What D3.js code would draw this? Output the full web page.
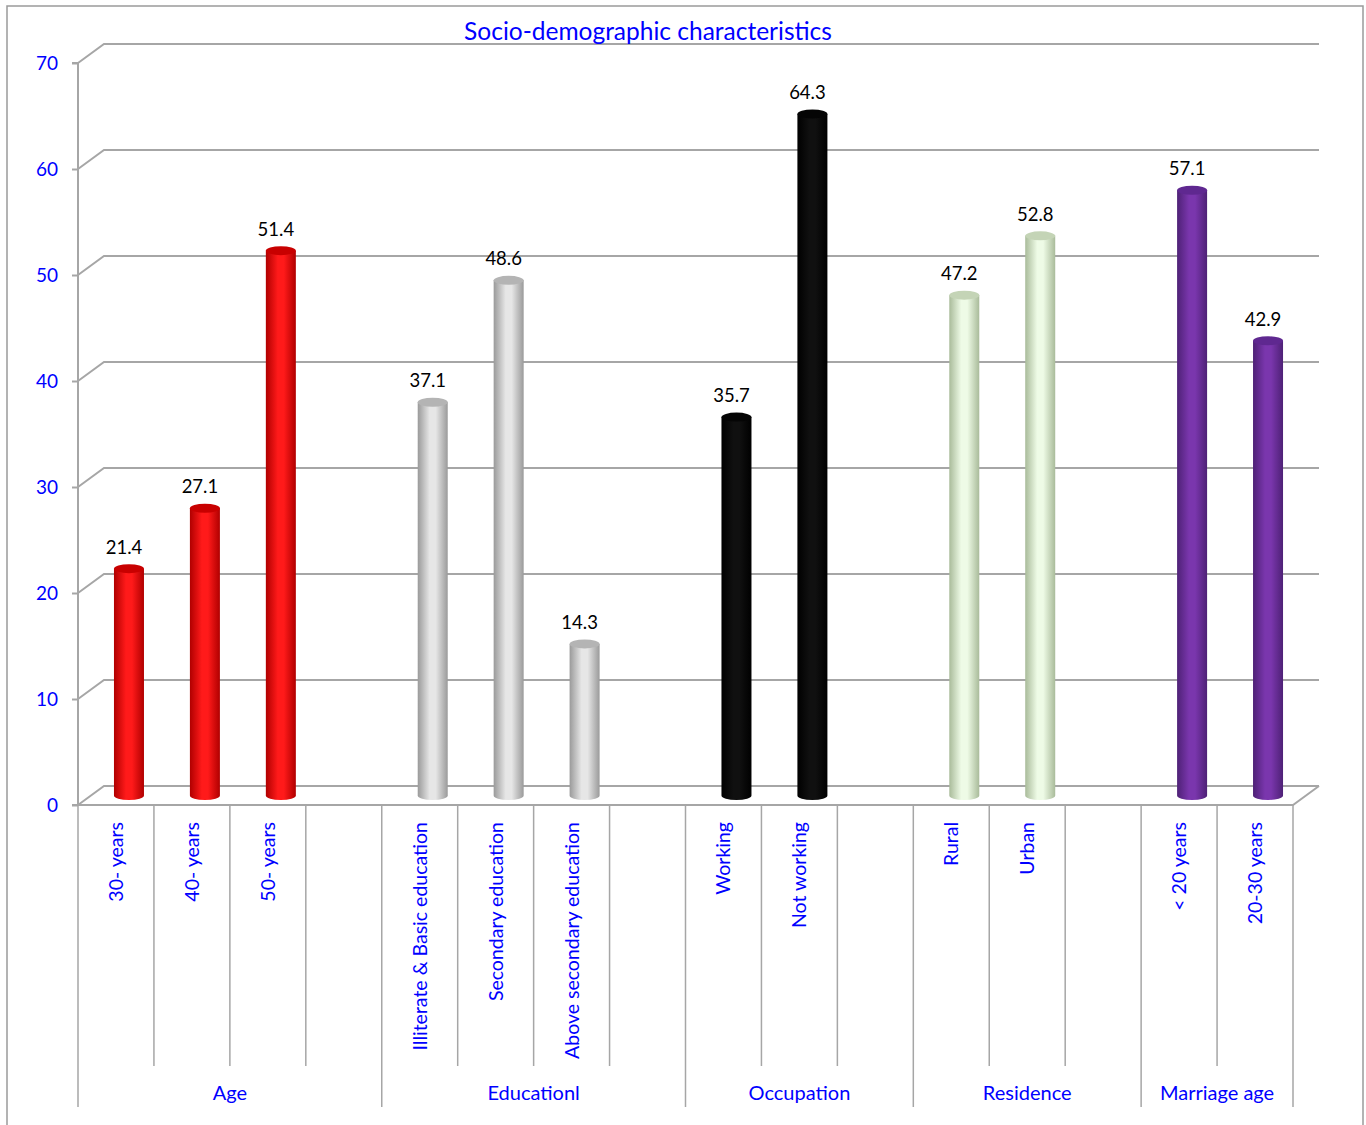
<!DOCTYPE html>
<html>
<head>
<meta charset="utf-8">
<script src="https://cdn.jsdelivr.net/npm/d3@7"></script>
<style>
  body { margin: 0; background: #fff; }
  svg { display: block; font-family: Lato, "Open Sans", sans-serif; }
</style>
</head>
<body>
<div class="chart"></div>
<script>
// one slot per column, blank slots keep the gaps between groups
const categories = ["30- years", "40- years", "50- years", "",
  "Illiterate & Basic education", "Secondary education", "Above secondary education", "",
  "Working", "Not working", "",
  "Rural", "Urban", "",
  "< 20 years", "20-30 years"];
const values = [21.4, 27.1, 51.4, null,
  37.1, 48.6, 14.3, null,
  35.7, 64.3, null,
  47.2, 52.8, null,
  57.1, 42.9];
const groups = ["Age", "Educationl", "Occupation", "Residence", "Marriage age"];
const groupSizes = [4, 4, 3, 3, 2];
const yTicks = [0, 10, 20, 30, 40, 50, 60, 70];
const title = "Socio-demographic characteristics";

// shades per group: edge, middle, top
const groupColors = [
  ["#b00000", "#ff1a1a", "#c80000"],
  ["#9a9a9a", "#e6e6e6", "#b4b4b4"],
  ["#000000", "#101010", "#050505"],
  ["#a9bb9a", "#eefbe6", "#c4d4b6"],
  ["#4e2176", "#7a36ad", "#5f2890"]
];

const width = 1366, height = 1125;
const depth = { dx: 26, dy: -19 };
const blue = "#0000ff", gridColor = "#a6a6a6";

const svg = d3.select(".chart").append("svg")
  .attr("width", width).attr("height", height)
  .attr("viewBox", [0, 0, width, height]);

svg.append("rect")
  .attr("x", 7).attr("y", 6).attr("width", 1356).attr("height", 1130)
  .attr("fill", "none").attr("stroke", "#9a9a9a").attr("stroke-width", 1.5);

const x = d3.scaleBand()
  .domain(d3.range(categories.length))
  .range([78, 1293]);

const y = d3.scaleLinear()
  .domain([0, 70])
  .range([805, 63]);

// group index for each slot
const slotGroup = [];
groupSizes.forEach((n, g) => { for (let i = 0; i < n; i++) slotGroup.push(g); });

const defs = svg.append("defs");
groupColors.forEach((c, g) => {
  const grad = defs.append("linearGradient").attr("id", "cyl" + g)
    .attr("x1", 0).attr("x2", 1).attr("y1", 0).attr("y2", 0);
  grad.append("stop").attr("offset", "0%").attr("stop-color", c[0]);
  grad.append("stop").attr("offset", "40%").attr("stop-color", c[1]);
  grad.append("stop").attr("offset", "60%").attr("stop-color", c[1]);
  grad.append("stop").attr("offset", "100%").attr("stop-color", c[0]);
});

// gridlines: side diagonal + back wall
const grid = svg.append("g").attr("stroke", gridColor).attr("stroke-width", 2).attr("fill", "none");
grid.selectAll("path")
  .data(yTicks)
  .join("path")
  .attr("d", d => `M${x.range()[0]},${y(d)}l${depth.dx},${depth.dy}H${x.range()[1] + depth.dx}`);

// floor
const x0 = x.range()[0], x1 = x.range()[1];
grid.append("path")
  .attr("d", `M${x0},${y(0)}H${x1}l${depth.dx},${depth.dy}`);

// y axis line + ticks
svg.append("g")
  .attr("transform", `translate(${x0},0)`)
  .call(d3.axisLeft(y).tickValues(yTicks).tickSize(6).tickPadding(14))
  .call(g => g.select(".domain").attr("stroke", gridColor).attr("stroke-width", 2).attr("d", `M-6,${y(70)}H0V${y(0)}H-6`))
  .call(g => g.selectAll(".tick line").attr("stroke", gridColor).attr("stroke-width", 2))
  .call(g => g.selectAll(".tick text").attr("fill", blue).style("font-size", "19px").style("font-family", "Lato, sans-serif"));

// cylinders
const bw = 30, ry = 4.5;
const bars = svg.append("g");
const barData = values.map((v, i) => ({ i, v, g: slotGroup[i] })).filter(d => d.v != null);

bars.selectAll("path.body")
  .data(barData)
  .join("path")
  .attr("class", "body")
  .attr("fill", d => `url(#cyl${d.g})`)
  .attr("d", d => {
    const cx = x(d.i) + x.bandwidth() / 2 + depth.dx / 2;
    const yb = y(0) + depth.dy / 2, yt = y(d.v) + depth.dy / 2;
    return `M${cx - bw / 2},${yt}V${yb}A${bw / 2},${ry} 0 0 0 ${cx + bw / 2},${yb}V${yt}Z`;
  });

bars.selectAll("ellipse")
  .data(barData)
  .join("ellipse")
  .attr("cx", d => x(d.i) + x.bandwidth() / 2 + depth.dx / 2)
  .attr("cy", d => y(d.v) + depth.dy / 2)
  .attr("rx", bw / 2).attr("ry", ry)
  .attr("fill", d => groupColors[d.g][2]);

bars.selectAll("text")
  .data(barData)
  .join("text")
  .attr("x", d => x(d.i) + x.bandwidth() / 2 + depth.dx / 2 - 5)
  .attr("y", d => y(d.v) + depth.dy / 2 - 15)
  .attr("text-anchor", "middle")
  .attr("fill", "#000")
  .style("font-size", "18.5px")
  .text(d => d.v.toFixed(1));

// category axis: slot lines + rotated labels
const bottom = svg.append("g");
const groupStarts = d3.cumsum([0, ...groupSizes]);
const boundaries = d3.range(categories.length + 1);
bottom.selectAll("line")
  .data(boundaries)
  .join("line")
  .attr("x1", i => x0 + i * x.step()).attr("x2", i => x0 + i * x.step())
  .attr("y1", y(0))
  .attr("y2", i => groupStarts.includes(i) ? 1107 : 1066)
  .attr("stroke", gridColor).attr("stroke-width", 1.5);

bottom.selectAll("text.cat")
  .data(categories.map((c, i) => ({ c, i })).filter(d => d.c))
  .join("text")
  .attr("class", "cat")
  .attr("transform", d => `translate(${x(d.i) + x.bandwidth() / 2 + 7},822) rotate(-90)`)
  .attr("text-anchor", "end")
  .attr("fill", blue)
  .style("font-size", "19.5px")
  .text(d => d.c);

bottom.selectAll("text.grp")
  .data(groups)
  .join("text")
  .attr("class", "grp")
  .attr("x", (g, k) => x0 + (groupStarts[k] + groupSizes[k] / 2) * x.step())
  .attr("y", 1100)
  .attr("text-anchor", "middle")
  .attr("fill", blue)
  .style("font-size", "20px")
  .text(g => g);

svg.append("text")
  .attr("x", 648).attr("y", 40)
  .attr("text-anchor", "middle")
  .attr("fill", blue)
  .style("font-size", "24.5px")
  .text(title);
</script>
</body>
</html>
